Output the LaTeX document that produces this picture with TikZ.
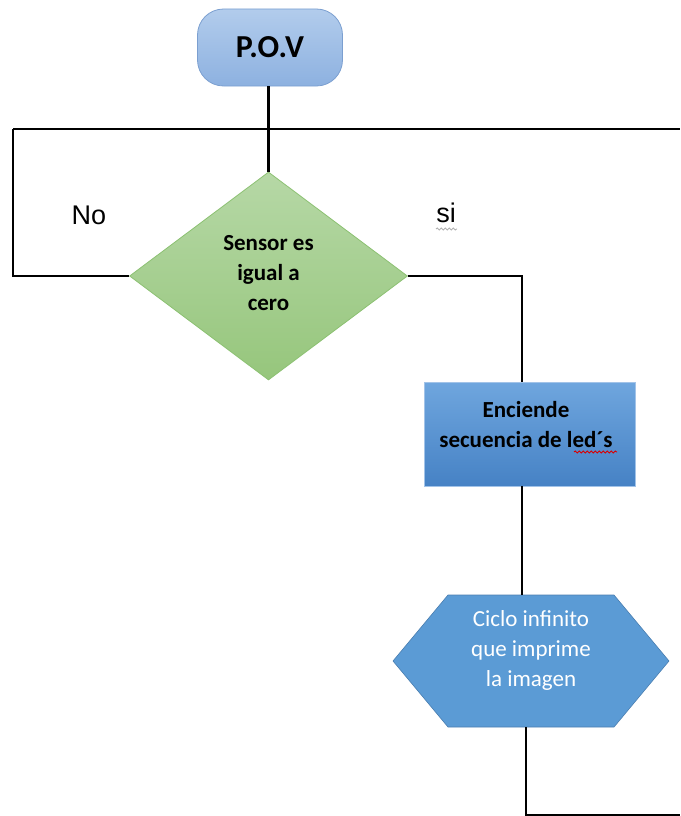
\documentclass[tikz,border=0pt]{standalone}
\usepackage{fontspec}
\setmainfont{Carlito}
\newfontfamily\arialf{Liberation Sans}
\usetikzlibrary{shapes.geometric,shapes.symbols,decorations.pathmorphing}
\definecolor{povtop}{HTML}{B2CCEC}
\definecolor{povbot}{HTML}{8DB1E0}
\definecolor{povdraw}{HTML}{7B9FD0}
\definecolor{dectop}{HTML}{B6D8A6}
\definecolor{decbot}{HTML}{96C67C}
\definecolor{decdraw}{HTML}{8CC172}
\definecolor{acttop}{HTML}{6FA6DE}
\definecolor{actbot}{HTML}{4682C5}
\definecolor{actdraw}{HTML}{A2C3E8}
\definecolor{hexfill}{HTML}{5B9BD5}
\definecolor{hexdraw}{HTML}{4A7EB0}
\tikzset{
  conn/.style={line width=2.3pt, black},
  termbox/.style={rounded corners=26pt, minimum width=145pt, minimum height=77pt,
     top color=povtop, bottom color=povbot, draw=povdraw, line width=0.8pt},
  decbox/.style={diamond, minimum width=278pt, minimum height=208pt, inner sep=0pt,
     top color=dectop, bottom color=decbot, draw=decdraw, line width=0.8pt},
  actbox/.style={minimum width=211pt, minimum height=104pt, inner sep=0pt,
     top color=acttop, bottom color=actbot, draw=actdraw, line width=0.8pt},
  hexbox/.style={signal, signal to=west and east, signal pointer angle=100.4,
     minimum width=276pt, minimum height=132pt, inner sep=0pt,
     fill=hexfill, draw=hexdraw, line width=0.6pt},
  txt/.style={align=center, font=\fontsize{23}{30}\selectfont\bfseries},
  lbl/.style={font=\arialf\fontsize{27}{30}\selectfont},
  squig/.style={decorate, decoration={snake, amplitude=1pt, segment length=4pt}, line width=0.9pt}
}
\begin{document}
\begin{tikzpicture}[x=1pt,y=-1pt]
\useasboundingbox (0,0) rectangle (680,816);
\node[termbox] (pov) at (270,47.5) {};
\node[font=\fontsize{32}{34}\selectfont\bfseries] (povt) at (270,47) {P.O.V};
\node[decbox] (dec) at (268.5,276) {};
\node[txt] (dect) at (268.5,273) {Sensor es\\igual a\\cero};
\node[actbox] (act) at (529.5,434) {};
\node[txt] (actt) at (526,425) {Enciende\\secuencia de led´s};
\node[hexbox] (hex) at (531,661) {};
\node[txt, font=\fontsize{23}{30}\selectfont, text=white] (hext) at (531,650) {Ciclo infinito\\que imprime\\la imagen};
\coordinate (jl) at (13,129);
\coordinate (jr) at (680,129);
\coordinate (k1) at (522,0);
\coordinate (k2) at (526,0);
\coordinate (bend) at (526,815);
\coordinate (bend2) at (680,815);
\draw[conn] (pov.south -| dec.north) -- (dec.north);
\draw[conn] (jl) -- (jr);
\draw[conn] (jl) |- (dec.west);
\draw[conn] (dec.east) -| (act.north -| k1);
\draw[conn] (act.south -| k1) -- (hex.north -| k1);
\draw[conn] (hex.south -| k2) -- (bend) -- (bend2);
\node[lbl] (no) at (89,215) {No};
\node[lbl] (si) at (446,213) {si};
\draw[squig, gray!60] (436,229) -- (457,229);
\draw[squig, red!85!black] (574,452) -- (617,452);
\end{tikzpicture}
\end{document}
